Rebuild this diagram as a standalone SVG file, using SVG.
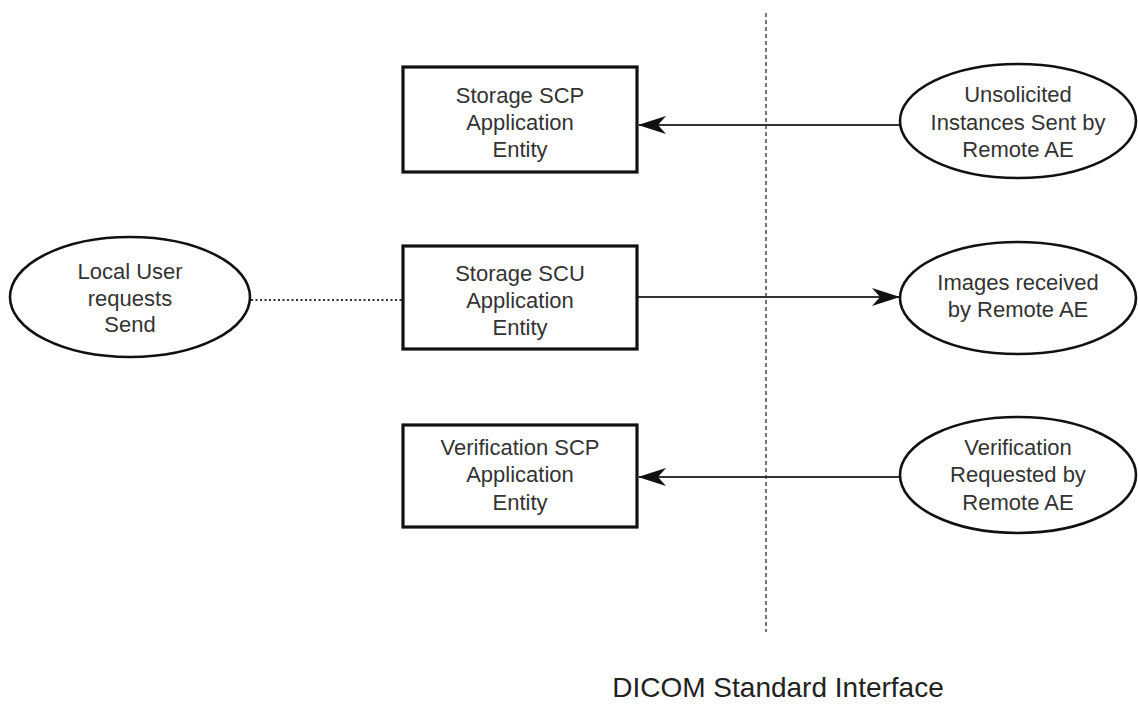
<svg xmlns="http://www.w3.org/2000/svg" width="1138" height="705" viewBox="0 0 1138 705">
<style>
.box{fill:#fff;stroke:#111;stroke-width:3.2}
.ell{fill:#fff;stroke:#111;stroke-width:2.6}
.t{font-family:"Liberation Sans",Arial,sans-serif;font-size:22px;fill:#333;text-anchor:middle}
.title{font-family:"Liberation Sans",Arial,sans-serif;font-size:28px;fill:#222;text-anchor:middle}
.conn{stroke:#333;stroke-width:2.2;fill:none}
</style>
<defs>
<marker id="ah" viewBox="0 0 28 20" refX="27" refY="10" markerWidth="28" markerHeight="20" markerUnits="userSpaceOnUse" orient="auto">
<path d="M0,1 L28,10 L0,19 L8,10 Z" fill="#111"/>
</marker>
</defs>
<rect width="1138" height="705" fill="#fff"/>
<g id="connectors">
<line x1="766" y1="13" x2="766" y2="632" stroke="#555" stroke-width="1.6" stroke-dasharray="4,3"/>
<line class="conn" x1="900" y1="125" x2="639" y2="125" marker-end="url(#ah)"/>
<line class="conn" x1="637" y1="297" x2="899" y2="297" marker-end="url(#ah)"/>
<line class="conn" x1="900" y1="477" x2="639" y2="477" marker-end="url(#ah)"/>
<line x1="251" y1="300" x2="403" y2="300" stroke="#333" stroke-width="2" stroke-dasharray="2,2.5"/>
</g>
<g id="storage-scp">
<rect class="box" x="403" y="67" width="234" height="105"/>
<text class="t" x="520" y="103">Storage SCP</text>
<text class="t" x="520" y="130">Application</text>
<text class="t" x="520" y="157">Entity</text>
</g>
<g id="storage-scu">
<rect class="box" x="403" y="246" width="234" height="103"/>
<text class="t" x="520" y="281">Storage SCU</text>
<text class="t" x="520" y="308">Application</text>
<text class="t" x="520" y="335">Entity</text>
</g>
<g id="verification-scp">
<rect class="box" x="403" y="425" width="234" height="102"/>
<text class="t" x="520" y="455">Verification SCP</text>
<text class="t" x="520" y="482">Application</text>
<text class="t" x="520" y="510">Entity</text>
</g>
<g id="unsolicited">
<ellipse class="ell" cx="1018" cy="121" rx="118" ry="57"/>
<text class="t" x="1018" y="102">Unsolicited</text>
<text class="t" x="1018" y="130">Instances Sent by</text>
<text class="t" x="1018" y="157">Remote AE</text>
</g>
<g id="images-received">
<ellipse class="ell" cx="1018" cy="298" rx="118" ry="56"/>
<text class="t" x="1018" y="290">Images received</text>
<text class="t" x="1018" y="317">by Remote AE</text>
</g>
<g id="verification-requested">
<ellipse class="ell" cx="1018" cy="475" rx="118" ry="58"/>
<text class="t" x="1018" y="455">Verification</text>
<text class="t" x="1018" y="482">Requested by</text>
<text class="t" x="1018" y="510">Remote AE</text>
</g>
<g id="local-user">
<ellipse class="ell" cx="130" cy="297" rx="120" ry="60"/>
<text class="t" x="130" y="279">Local User</text>
<text class="t" x="130" y="306">requests</text>
<text class="t" x="130" y="332">Send</text>
</g>
<g id="caption">
<text class="title" x="778" y="697">DICOM Standard Interface</text>
</g>
</svg>
